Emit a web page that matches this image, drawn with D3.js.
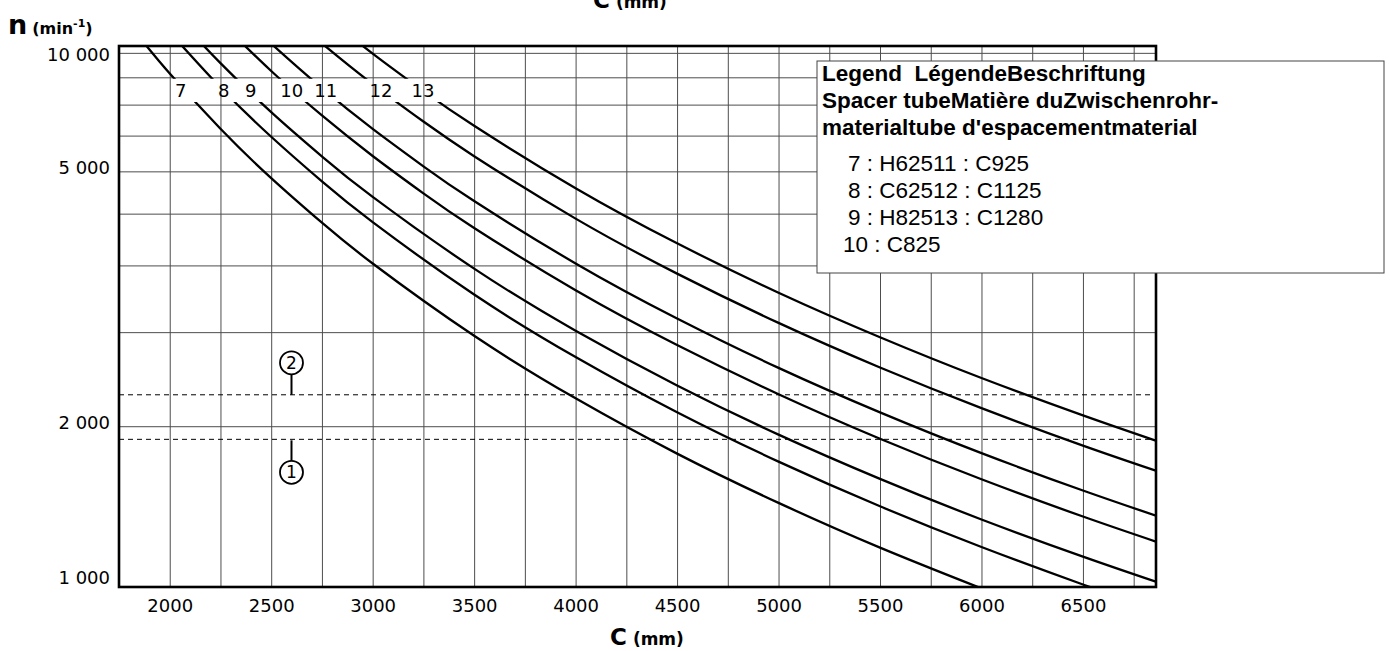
<!DOCTYPE html>
<html>
<head>
<meta charset="utf-8">
<script src="https://cdn.jsdelivr.net/npm/d3@7"></script>
<style>
    body { margin: 0; background: #fff; }
    text { font-family: "DejaVu Sans", sans-serif; fill: #000; }
    .legend-text { font-family: "Liberation Sans", Arial, sans-serif; font-size: 22.5px; }
</style>
</head>
<body>
<div id="chart"></div>
<script>
// ---- data ----
const xTickValues = [2000, 2500, 3000, 3500, 4000, 4500, 5000, 5500, 6000, 6500];
const xGridValues = [2000, 2250, 2500, 2750, 3000, 3250, 3500, 3750, 4000, 4250,
                     4500, 4750, 5000, 5250, 5500, 5750, 6000, 6250, 6500, 6750];
const yGridValues = [1000, 2000, 3000, 4000, 5000, 6000, 7000, 8000, 9000, 10000];
const yTickValues = [1000, 2000, 6000, 10000];
const yTickLabels = ["1 000", "2 000", "5 000", "10 000"];

const curveIds = [7, 8, 9, 10, 11, 12, 13];
const curve7  = [[1850,10706],[2000,9147],[2250,7210],[2500,5828],[2750,4808],[3000,4033],[3500,2953],[4000,2255],[4500,1777],[5000,1437],[5500,1185],[6000,994]];
const curve8  = [[2000,10932],[2250,8614],[2500,6965],[2750,5745],[3000,4820],[3500,3528],[4000,2695],[4500,2124],[5000,1717],[5500,1416],[6000,1188],[6500,1011],[6860,907]];
const curve9  = [[2100,10988],[2250,9565],[2500,7746],[2750,6400],[3000,5374],[3500,3945],[4000,3018],[4500,2384],[5000,1929],[5500,1594],[6000,1338],[6500,1140],[6860,1023]];
const curve10 = [[2250,11428],[2500,9247],[2750,7635],[3000,6411],[3250,5457],[3500,4700],[4000,3594],[4500,2838],[5000,2296],[5500,1895],[6000,1591],[6500,1355],[6860,1216]];
const curve11 = [[2400,11300],[2500,10406],[2750,8587],[3000,7206],[3250,6132],[3500,5279],[4000,4034],[4500,3182],[5000,2572],[5500,2123],[6000,1781],[6500,1516],[6860,1360]];
const curve12 = [[2600,11659],[2750,10416],[3000,8739],[3250,7437],[3500,6406],[4000,4894],[4500,3861],[5000,3122],[5500,2576],[6000,2162],[6500,1840],[6860,1651]];
const curve13 = [[2800,11455],[3000,9968],[3250,8481],[3500,7303],[4000,5579],[4500,4400],[5000,3556],[5500,2935],[6000,2462],[6500,2096],[6860,1879]];
const curveLabelC = [2054, 2266, 2399, 2601, 2769, 3041, 3248];   // where the number sits on each curve
const curveLabelN = 8500;

const limitSpeeds = [1890, 2290];      // dashed lines 1 and 2
const limitNames = ["1", "2"];
const limitMarkerC = 2600;

const legendHeader = ["Legend  LégendeBeschriftung",
                      "Spacer tubeMatière duZwischenrohr-",
                      "materialtube d'espacementmaterial"];
const legendIds = [7, 8, 9, 10];
const legendEntries = ["H62511 : C925", "C62512 : C1125", "H82513 : C1280", "C825"];


class SpeedChart {
    constructor(parentElement, curves) {
        this.parentElement = parentElement;
        this.curves = curves;
    }

    initVis() {
        let vis = this;

        vis.margin = {top: 46, right: 234, bottom: 64, left: 119};
        vis.width = 1390 - vis.margin.left - vis.margin.right;
        vis.height = 651 - vis.margin.top - vis.margin.bottom;

        vis.root = d3.select("#" + vis.parentElement).append("svg")
            .attr("width", 1390)
            .attr("height", 651);

        vis.svg = vis.root.append("g")
            .attr("transform", `translate(${vis.margin.left},${vis.margin.top})`);

        vis.xScale = d3.scaleLinear()
            .domain([1750, 6860])
            .range([0, vis.width]);

        vis.yScale = d3.scaleLog()
            .domain([1000, 10300])
            .range([vis.height, 0]);

        // grid
        vis.svg.append("g")
            .attr("class", "x-grid")
            .attr("transform", `translate(0,${vis.height})`)
            .call(d3.axisBottom(vis.xScale).tickValues(xGridValues).tickSize(-vis.height).tickFormat(""))
            .call(g => g.select(".domain").remove())
            .selectAll("line").attr("stroke", "#4d4d4d").attr("stroke-width", 1);

        vis.svg.append("g")
            .attr("class", "y-grid")
            .call(d3.axisLeft(vis.yScale).tickValues(yGridValues).tickSize(-vis.width).tickFormat(""))
            .call(g => g.select(".domain").remove())
            .selectAll("line").attr("stroke", "#4d4d4d").attr("stroke-width", 1);

        // tick labels
        vis.svg.append("g")
            .attr("class", "x-axis")
            .attr("transform", `translate(0,${vis.height})`)
            .call(d3.axisBottom(vis.xScale).tickValues(xTickValues).tickSize(0).tickPadding(12).tickFormat(d => d))
            .call(g => g.select(".domain").remove())
            .attr("font-family", "DejaVu Sans")
            .attr("font-size", 18);

        vis.svg.append("g")
            .attr("class", "y-axis")
            .call(d3.axisLeft(vis.yScale).tickValues(yTickValues).tickSize(0).tickPadding(9)
                .tickFormat((d, i) => yTickLabels[i]))
            .call(g => g.select(".domain").remove())
            .attr("font-family", "DejaVu Sans")
            .attr("font-size", 18)
            .selectAll("text")
            .attr("dy", d => d === 1000 ? "-0.22em" : (d === 10000 ? "0.42em" : "0.1em"));

        // clip: plot area minus the band where the curve numbers sit
        const defs = vis.root.append("defs");
        const clip = defs.append("clipPath").attr("id", "curve-clip");
        clip.append("rect")
            .attr("x", 0).attr("y", 0)
            .attr("width", vis.width)
            .attr("height", vis.yScale(8940));
        clip.append("rect")
            .attr("x", 0).attr("y", vis.yScale(8090))
            .attr("width", vis.width)
            .attr("height", vis.height - vis.yScale(8090));

        vis.updateVis();
    }

    updateVis() {
        let vis = this;

        // limit speed lines
        vis.svg.selectAll(".limit-line")
            .data(limitSpeeds)
            .enter().append("line")
            .attr("class", "limit-line")
            .attr("x1", 0)
            .attr("x2", vis.width - 3)
            .attr("y1", d => vis.yScale(d))
            .attr("y2", d => vis.yScale(d))
            .attr("stroke", "#000")
            .attr("stroke-width", 1)
            .attr("stroke-dasharray", "5,4");

        // markers 1 / 2 with stems
        const mx = vis.xScale(limitMarkerC);
        const markers = vis.svg.selectAll(".limit-marker")
            .data(limitSpeeds)
            .enter().append("g")
            .attr("class", "limit-marker")
            .attr("transform", (d, i) => `translate(${mx},${vis.yScale(d) + (i === 0 ? 33 : -32)})`);

        markers.append("line")
            .attr("x1", 0).attr("x2", 0)
            .attr("y1", (d, i) => i === 0 ? -32 : 11.5)
            .attr("y2", (d, i) => i === 0 ? -11.5 : 32)
            .attr("stroke", "#000")
            .attr("stroke-width", 2);

        markers.append("circle")
            .attr("r", 11.5)
            .attr("fill", "#fff")
            .attr("stroke", "#000")
            .attr("stroke-width", 1.8);

        markers.append("text")
            .attr("text-anchor", "middle")
            .attr("dy", "0.36em")
            .attr("font-size", 17)
            .text((d, i) => limitNames[i]);

        // curves
        const line = d3.line()
            .x(d => vis.xScale(d[0]))
            .y(d => vis.yScale(d[1]))
            .curve(d3.curveNatural);

        vis.svg.append("g")
            .attr("clip-path", "url(#curve-clip)")
            .selectAll(".curve")
            .data(vis.curves)
            .enter().append("path")
            .attr("class", "curve")
            .attr("d", d => line(d))
            .attr("fill", "none")
            .attr("stroke", "#000")
            .attr("stroke-width", 2.3);

        vis.svg.selectAll(".curve-label")
            .data(curveIds)
            .enter().append("text")
            .attr("class", "curve-label")
            .attr("x", (d, i) => vis.xScale(curveLabelC[i]))
            .attr("y", vis.yScale(curveLabelN))
            .attr("dy", "0.36em")
            .attr("text-anchor", "middle")
            .attr("font-size", 18)
            .text(d => d);

        // frame
        vis.svg.append("rect")
            .attr("width", vis.width)
            .attr("height", vis.height)
            .attr("fill", "none")
            .attr("stroke", "#000")
            .attr("stroke-width", 2.6);

        // axis titles
        const yTitle = vis.root.append("text")
            .attr("x", 8)
            .attr("y", 34)
            .attr("font-weight", "bold");
        yTitle.append("tspan").attr("font-size", 27).text("n");
        yTitle.append("tspan").attr("font-size", 16).attr("dx", 5).text("(min");
        yTitle.append("tspan").attr("font-size", 11).attr("dy", -7).text("-1");
        yTitle.append("tspan").attr("font-size", 16).attr("dy", 7).text(")");

        // the title also appears clipped at the very top of the picture
        const xTitleAt = [8, 645];
        xTitleAt.forEach((y, i) => {
            const t = vis.root.append("text")
                .attr("x", i === 0 ? 593 : 610)
                .attr("y", y)
                .attr("font-weight", "bold");
            t.append("tspan").attr("font-size", 23).text("C");
            t.append("tspan").attr("font-size", 17).attr("dx", 6).text("(mm)");
        });

        // legend box
        const lg = vis.root.append("g").attr("class", "legend");
        lg.append("rect")
            .attr("x", 817)
            .attr("y", 61)
            .attr("width", 567)
            .attr("height", 212)
            .attr("fill", "#fff")
            .attr("stroke", "#444")
            .attr("stroke-width", 1);

        lg.selectAll(".legend-head")
            .data(legendHeader)
            .enter().append("text")
            .attr("class", "legend-text legend-head")
            .attr("x", 822)
            .attr("y", (d, i) => 81 + i * 27)
            .attr("font-weight", "bold")
            .style("white-space", "pre")
            .text(d => d);

        lg.selectAll(".legend-row")
            .data(legendEntries)
            .enter().append("text")
            .attr("class", "legend-text legend-row")
            .attr("x", (d, i) => legendIds[i] >= 10 ? 843 : 848)
            .attr("y", (d, i) => 171 + i * 27)
            .text((d, i) => `${legendIds[i]} : ${d}`);
    }
}

const chart = new SpeedChart("chart", [curve7, curve8, curve9, curve10, curve11, curve12, curve13]);
chart.initVis();
</script>
</body>
</html>
